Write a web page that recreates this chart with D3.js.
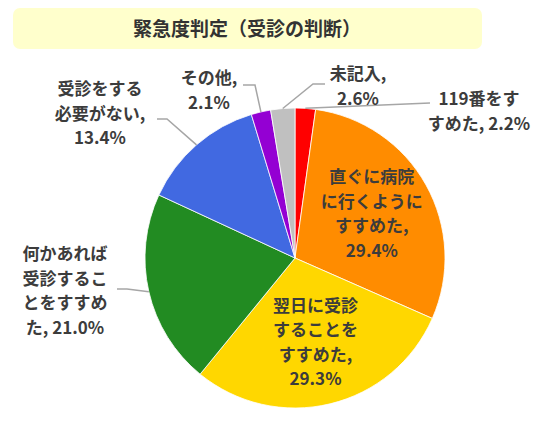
<!DOCTYPE html>
<html>
<head>
<meta charset="utf-8">
<script src="https://cdn.jsdelivr.net/npm/d3@7"></script>
<style>
  body { margin: 0; background: #fff; }
  svg { display: block; }
  .lbl { font-family: "Noto Sans CJK JP", sans-serif; font-weight: bold; font-size: 17px; fill: #3c3c3c; }
</style>
</head>
<body>
<svg id="chart"></svg>
<script>
var title = "緊急度判定（受診の判断）";
var categories = ["119番をすすめた", "直ぐに病院に行くようにすすめた", "翌日に受診することをすすめた",
    "何かあれば受診することをすすめた", "受診をする必要がない", "その他", "未記入"];
var values = [2.2, 29.4, 29.3, 21.0, 13.4, 2.1, 2.6];
var colors = ["#FF0000", "#FF8C00", "#FFD700", "#228B22", "#4169E1", "#9400D3", "#C0C0C0"];
// how the category names are broken into lines
var nameLines = [["119番をす", "すめた"], ["直ぐに病院", "に行くように", "すすめた"], ["翌日に受診", "することを", "すすめた"],
    ["何かあれば", "受診するこ", "とをすすめ", "た"], ["受診をする", "必要がない"], ["その他"], ["未記入"]];
var pctOwnLine = [false, true, true, false, true, true, true];

init();

function init() {
    var w = 540, h = 425;
    var cx = 295, cy = 258, r = 150;
    var lh = 24.5;

    var svg = d3.select('#chart').attr('width', w).attr('height', h);

    // title box
    svg.append('rect')
        .attr('x', 13).attr('y', 8).attr('width', 469).attr('height', 41)
        .attr('rx', 7).attr('fill', '#FFFFCC');
    svg.append('text')
        .attr('x', 247).attr('y', 36)
        .attr('text-anchor', 'middle')
        .style('font-family', '"Noto Sans CJK JP", sans-serif')
        .style('font-size', '19px')
        .style('font-weight', 'bold')
        .attr('fill', '#333')
        .text(title);

    var data = categories.map(function(c, i) { return {name: c, value: values[i], i: i}; });
    var pie = d3.pie().sort(null).value(function(d) { return d.value; });
    var arcs = pie(data);
    var arc = d3.arc().innerRadius(0).outerRadius(r);
    var inner = d3.arc().innerRadius(88).outerRadius(88);

    var g = svg.append('g').attr('transform', 'translate(' + cx + ',' + cy + ')');
    g.selectAll('path')
        .data(arcs)
        .enter()
        .append('path')
        .attr('d', arc)
        .attr('fill', function(d) { return colors[d.data.i]; })
        .attr('stroke', '#fff')
        .attr('stroke-width', 0.8);

    function lines(i) {
        var ls = nameLines[i].slice();
        var pct = values[i].toFixed(1) + '%';
        ls[ls.length - 1] += ',';
        if (pctOwnLine[i]) ls.push(pct);
        else ls[ls.length - 1] += ' ' + pct;
        return ls;
    }

    // outside labels: text centre, first baseline, leader path points (after the edge point)
    var outside = {
        0: {x: 479, y: 105, pts: [[430, 103]]},
        6: {x: 358, y: 80, pts: [[313, 84], [325, 84]]},
        5: {x: 209, y: 84, pts: [[255, 85], [243, 85]]},
        4: {x: 100, y: 95, pts: [[167, 119], [157, 119]]},
        3: {x: 65, y: 260, pts: [[127, 289], [117, 289]]}
    };

    arcs.forEach(function(a) {
        var i = a.data.i;
        var ls = lines(i);
        var o = outside[i];
        if (o) {
            var mid = (a.startAngle + a.endAngle) / 2;
            var p0 = [cx + r * Math.sin(mid), cy - r * Math.cos(mid)];
            svg.append('path')
                .attr('d', d3.line()([p0].concat(o.pts)))
                .attr('fill', 'none')
                .attr('stroke', '#A6A6A6')
                .attr('stroke-width', 1.5);
            var t = svg.append('text').attr('class', 'lbl').attr('text-anchor', 'middle');
            ls.forEach(function(s, k) {
                t.append('tspan').attr('x', o.x).attr('y', o.y + k * lh).text(s);
            });
        } else {
            var c = inner.centroid(a);
            var y0 = cy + c[1] - (ls.length - 1) * lh / 2 + 5;
            var t2 = svg.append('text').attr('class', 'lbl').attr('text-anchor', 'middle');
            ls.forEach(function(s, k) {
                t2.append('tspan').attr('x', cx + c[0]).attr('y', y0 + k * lh).text(s);
            });
        }
    });
}
</script>
</body>
</html>
